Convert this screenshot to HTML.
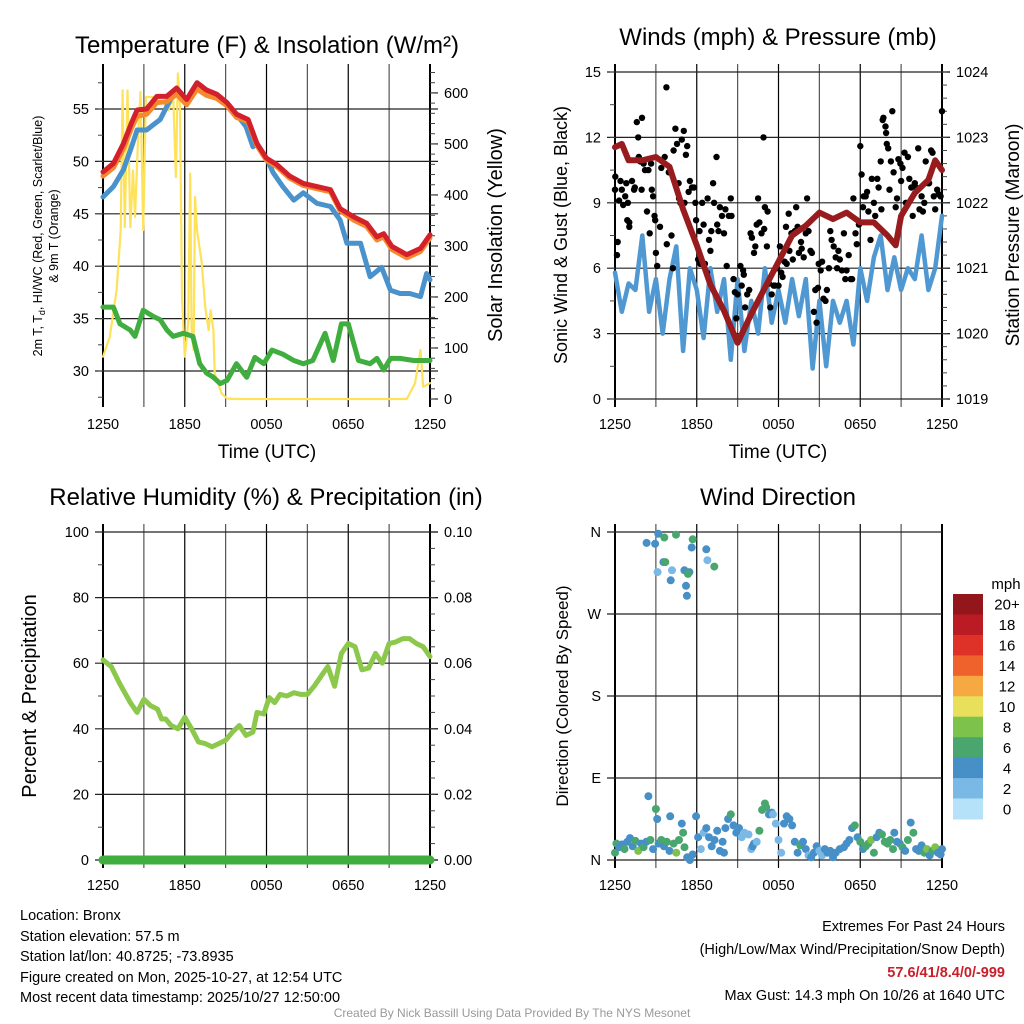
<!DOCTYPE html>
<html><head><meta charset="utf-8">
<style>
html,body{margin:0;padding:0;background:#fff;width:1024px;height:1024px;overflow:hidden}
svg{display:block;font-family:"Liberation Sans",Arial,sans-serif}
.info{position:absolute;font-family:"Liberation Sans",sans-serif;font-size:14.5px;color:#000;line-height:20.5px}
</style></head>
<body>
<svg id="fig" width="1024" height="1024" viewBox="0 0 1024 1024"></svg>
<div class="info" style="left:20px;top:906px">
<div>Location: Bronx</div>
<div>Station elevation: 57.5 m</div>
<div>Station lat/lon: 40.8725; -73.8935</div>
<div>Figure created on Mon, 2025-10-27, at 12:54 UTC</div>
<div>Most recent data timestamp: 2025/10/27 12:50:00</div>
</div>
<div class="info" style="right:19px;top:916px;text-align:right;line-height:23px">
<div>Extremes For Past 24 Hours</div>
<div>(High/Low/Max Wind/Precipitation/Snow Depth)</div>
<div style="color:#c8202a;font-weight:bold">57.6/41/8.4/0/-999</div>
<div>Max Gust: 14.3 mph On 10/26 at 1640 UTC</div>
</div>
<div style="position:absolute;left:0;width:1024px;top:1006px;text-align:center;font-family:'Liberation Sans',sans-serif;font-size:12px;color:#999">Created By Nick Bassill Using Data Provided By The NYS Mesonet</div>
<script>
// ---- data ----
const xTickLabels=["1250","1850","0050","0650","1250"];
const tempT=[0,0.76,1.5,2.1,2.5,3.2,3.95,4.67,5.4,6.14,6.9,7.6,8.35,9.1,9.8,10.65,11.3,12.0,12.75,13.7,14.7,15.7,16.7,17.4,18.4,19.35,20.1,20.6,21.2,22.3,23.3,24];
const redT=[49.0,49.8,51.7,53.7,54.9,55.0,56.2,56.2,57.0,55.9,57.5,56.8,56.4,55.6,54.5,54.0,51.7,50.3,49.7,48.6,47.9,47.6,47.3,45.5,44.7,44.1,42.8,43.1,41.9,41.1,41.7,43.0];
const orangeT=[48.6,49.4,51.2,53.2,54.3,54.5,55.6,55.7,56.4,55.4,56.9,56.3,56.0,55.3,54.2,53.8,51.5,50.1,49.5,48.4,47.7,47.4,47.1,45.3,44.4,43.8,42.5,42.8,41.6,40.8,41.4,42.7];
const blueTT=[0,0.76,1.5,2.1,2.5,3.2,3.7,4.2,4.55,5.4,6.14,6.9,7.6,8.35,9.1,9.8,10.5,11.0,11.3,12.0,12.5,13.2,14.0,14.7,15.7,16.7,17.4,17.9,18.9,19.6,20.45,21.1,21.8,22.5,23.3,23.75,24];
const blueT=[46.6,47.6,49.2,51.4,53.0,53.0,53.5,54.0,54.9,57.0,55.9,57.5,56.8,56.4,55.6,54.5,53.3,51.4,51.7,50.3,48.9,47.6,46.3,47.0,46.0,45.7,44.4,42.2,42.2,39.0,39.9,37.7,37.4,37.4,37.1,39.3,38.7];
const dewT=[0,0.76,1.25,2.0,2.35,2.95,3.7,4.2,4.7,5.15,5.9,6.6,7.1,7.6,8.1,8.6,9.1,9.8,10.55,11.15,11.8,12.4,13.2,14.0,14.7,15.4,16.3,16.9,17.5,18.0,18.75,19.6,20.1,20.6,21.1,21.8,22.8,24];
const dewV=[36.1,36.1,34.5,33.9,33.3,35.8,35.2,34.9,33.9,33.3,33.6,33.3,30.7,29.8,29.4,28.8,29.1,30.7,29.4,31.3,30.7,32.0,31.6,31.0,30.7,31.0,33.6,31.0,34.5,34.5,31.0,30.7,31.2,30.1,31.2,31.2,31.0,31.0];
const solT=[0,0.5,1.0,1.3,1.44,1.6,1.8,2.0,2.2,2.35,2.6,2.75,2.95,3.15,3.7,4.4,4.8,5.15,5.35,5.5,5.65,5.8,6.0,6.25,6.4,6.5,6.65,6.75,6.9,7.25,7.5,7.75,7.9,8.1,8.2,8.45,8.7,9.1,9.6,22.3,22.9,23.3,23.5,24];
const solV=[83,122,213,331,605,337,605,337,448,357,527,602,331,592,592,582,566,592,435,638,572,200,83,148,442,135,96,396,331,266,181,135,174,135,50,31,11,1,0,0,31,96,24,31];
const windV=[5.8,4.0,5.3,5.0,7.5,4.0,5.5,3.0,5.5,7.0,2.2,6.0,5.0,2.8,6.0,4.0,5.5,1.8,5.5,2.2,4.5,3.0,6.0,3.5,5.0,3.5,5.5,3.8,5.5,1.4,4.5,1.5,4.5,3.5,4.5,2.5,6.0,4.5,6.5,7.5,5.0,6.5,5.0,6.0,5.5,7.5,5.0,6.0,8.4];
const gustT=[0,0.02,0.15,0.2,0.3,0.4,0.5,0.6,0.75,0.95,0.83,0.9,1.05,1.05,1.25,1.4,1.45,1.6,1.7,1.75,1.85,1.98,1.95,2.1,2.2,2.35,2.45,2.55,2.65,2.7,2.8,2.9,2.95,3.0,3.1,3.3,3.4,3.65,3.77,3.8,3.95,4.15,4.25,4.3,4.43,4.55,4.67,4.7,4.8,4.9,5.05,5.1,5.2,5.3,5.4,5.5,5.65,5.8,5.9,5.95,6.1,6.2,6.25,6.4,6.5,6.6,6.75,6.8,6.9,7.0,7.07,7.2,7.27,7.45,7.5,7.6,7.7,7.85,8.0,8.1,8.2,8.35,8.5,8.55,8.7,8.8,8.9,9.0,9.2,9.3,9.4,9.45,9.55,9.7,9.85,9.95,10.05,10.2,10.3,10.4,10.5,10.6,10.75,10.9,10.95,11.0,11.15,11.2,11.3,11.4,11.5,11.65,11.75,11.9,12.0,12.1,12.2,12.3,12.45,12.55,12.6,12.75,12.8,12.95,13.05,13.2,13.3,13.4,13.5,13.65,13.7,13.85,14.0,14.1,14.2,14.35,14.45,14.6,14.7,14.8,14.9,14.95,15.1,15.2,15.3,15.45,15.55,15.7,15.8,15.9,16.05,16.2,16.3,16.4,16.5,16.65,16.8,16.9,17.0,17.15,17.3,17.4,17.5,17.65,17.75,17.9,18.0,18.1,18.2,18.25,18.4,18.5,18.6,18.75,18.85,19.0,19.1,19.25,19.35,19.5,19.55,19.65,19.7,19.85,19.9,19.95,20.05,20.15,20.25,20.35,20.45,20.6,20.7,20.8,20.95,21.0,21.1,21.25,21.35,21.5,21.6,21.75,21.85,22.0,22.1,22.25,22.35,22.5,22.6,22.7,22.8,23.0,23.05,23.2,23.3,23.4,23.5,23.65,23.75,23.9,24.0];
const gustV=[9.6,10.2,6.6,7.2,9.1,10.0,9.6,8.9,9.3,9.0,9.9,8.2,8.1,7.9,10.0,9.6,9.7,12.7,12.0,11.1,10.9,12.9,9.6,10.8,10.5,8.6,10.5,7.6,10.8,9.6,9.3,8.4,8.2,6.7,6.1,7.9,10.6,11.1,14.3,7.1,10.4,7.5,6.0,11.4,12.4,11.7,9.9,9.2,9.0,11.9,12.3,9.0,11.2,11.6,9.5,10.0,9.7,9.7,9.0,8.2,6.4,7.7,6.2,9.0,8.0,6.2,5.8,9.2,7.3,6.8,7.7,9.9,9.0,11.1,8.0,7.7,8.8,8.4,7.6,8.7,6.1,8.4,9.2,8.4,5.5,4.9,3.7,4.8,6.1,5.2,5.9,5.7,4.2,4.8,5.0,7.6,7.4,6.7,7.0,8.0,9.2,8.1,7.6,12.0,7.8,8.8,7.0,8.6,5.3,4.2,4.8,5.2,5.2,6.0,5.2,7.0,5.8,5.6,6.3,7.9,6.2,8.5,6.8,7.6,6.4,7.7,8.8,7.9,6.7,7.2,6.9,6.5,7.6,9.2,7.7,6.8,6.7,4.0,5.0,3.5,5.1,6.2,5.9,6.3,4.6,4.5,5.0,6.0,7.7,7.3,7.0,6.5,6.0,6.8,6.4,5.9,7.6,5.5,5.9,6.6,5.5,5.5,9.2,7.6,7.1,8.0,11.6,10.3,8.8,9.3,9.3,9.5,8.6,7.3,10.1,9.0,8.4,10.1,9.7,10.9,8.7,12.8,12.9,12.5,12.2,11.7,11.5,9.6,10.9,13.2,10.4,8.8,9.2,11.0,10.8,10.0,10.6,11.3,9.0,11.1,10.1,9.7,8.4,9.9,9.7,11.5,8.7,9.3,8.6,9.0,10.9,9.9,9.9,11.4,11.3,9.3,8.7,9.6,9.4,9.3,13.2];
const presT=[0,0.5,1,2,3,4,5,6,7,8,9,10,11,12,13,14,15,16,17,18,19,20,20.6,21,22,23,23.5,24];
const presV=[1022.85,1022.9,1022.65,1022.65,1022.7,1022.55,1021.9,1021.35,1020.75,1020.35,1019.86,1020.3,1020.7,1021.1,1021.5,1021.65,1021.85,1021.75,1021.85,1021.7,1021.7,1021.5,1021.35,1021.8,1022.15,1022.35,1022.65,1022.5];
const rhT=[0,0.6,1.2,2,2.5,3,3.5,4,4.3,4.6,5,5.5,6,6.5,7,7.5,8,8.5,9,9.5,10,10.5,11,11.3,11.8,12.2,12.6,13,13.5,14,14.5,15,15.5,16,16.5,17,17.5,18,18.5,19,19.5,20,20.5,21,21.5,22,22.5,23,23.5,24];
const rhV=[61,59,54,48,45,49,47,46,43,43,41,40,43.5,40,36,35.5,34.5,35.5,36.5,39,41,38,39,45,44.5,49.5,48,50.5,50,51,50.5,50.5,53,56,59,53,63,66,65,58,58.5,63,60,66,66.5,67.5,67.5,66,65,62];
const precipV=[0,0];
const dirT=[2.32,2.94,3.18,3.62,4.48,5.70,5.63,6.70,6.78,7.29,3.55,3.69,3.13,4.18,4.09,5.09,5.46,5.36,5.21,5.28,
0.0,0.1,0.3,0.5,0.7,0.9,1.1,1.3,1.5,1.7,1.9,2.1,2.3,2.45,2.6,2.8,3.0,3.1,3.2,3.4,3.6,3.8,4.0,4.05,4.3,4.5,4.7,4.9,5.0,5.1,5.3,5.5,5.7,5.95,6.1,6.3,6.5,6.7,6.9,7.1,7.3,7.5,7.7,7.9,8.0,8.1,8.3,8.5,8.7,8.9,9.1,9.3,9.5,9.8,10.0,10.1,10.2,10.4,10.6,10.8,11.0,11.1,11.3,11.5,11.6,11.8,12.0,12.2,12.4,12.6,12.8,13.0,13.2,13.4,13.6,13.8,14.0,14.2,14.4,14.6,14.8,15.0,15.2,15.4,15.6,15.8,16.0,16.2,16.5,16.8,17.0,17.2,17.4,17.6,17.8,18.0,18.2,18.4,18.6,18.8,19.0,19.2,19.4,19.6,19.8,20.0,20.2,20.4,20.5,20.7,20.9,21.1,21.3,21.5,21.7,21.9,22.1,22.3,22.5,22.7,22.9,23.1,23.3,23.5,23.7,23.9,24.0];
const dirV=[348,347,358,354,357,352,343,341,329,322,327,327,316,318,307,318,316,314,301,290,
8,18,14,17,12,20,24,15,21,10,18,14,20,70,22,12,56,45,18,22,15,20,10,48,18,8,22,40,30,14,3,0,6,48,25,12,30,35,25,15,22,32,10,20,8,35,45,50,38,30,35,25,30,28,12,15,18,20,32,55,62,58,50,52,50,40,22,8,40,48,45,38,20,8,16,20,12,5,3,8,15,10,5,12,8,10,3,8,12,14,18,22,35,38,25,20,12,15,18,22,8,25,30,28,20,18,22,12,30,20,18,14,10,22,41,30,12,10,16,8,12,5,10,14,8,6,12,10,15,8,12];
const dirS=[4,4,4,6,6,6,4,4,2,6,4,6,2,2,4,4,4,6,4,4,
6,6,4,4,6,4,4,4,6,8,4,6,4,4,6,4,6,4,4,6,4,6,4,4,6,8,6,4,6,6,4,4,4,4,4,2,2,4,4,4,4,4,4,4,4,4,4,6,4,4,4,2,2,2,2,4,4,2,6,6,6,6,4,4,2,2,2,2,4,4,4,4,4,4,6,4,4,2,4,4,4,2,2,4,4,4,4,4,4,4,4,4,4,6,4,6,4,6,6,8,6,4,4,6,6,6,6,6,4,4,4,6,4,6,4,6,4,4,4,6,8,4,6,8];
const cbLabels=["20+","18","16","14","12","10","8","6","4","2","0"];
const cbColors=["#93161b","#bb1b24","#de3128","#f0622c","#f6a842","#e8e05b","#7cc24b","#48a66e","#478fc7","#7ab8e6","#b6e2f9"];

// ---- helpers ----
const NS="http://www.w3.org/2000/svg";
const svg=document.getElementById('fig');
function mk(tag,attrs,parent){const e=document.createElementNS(NS,tag);for(const k in attrs)e.setAttribute(k,attrs[k]);(parent||svg).appendChild(e);return e;}
function txt(str,attrs,parent){const e=mk('text',attrs,parent);e.textContent=str;return e;}
function speedColor(s){if(s===undefined||isNaN(s))s=4;const i=Math.min(10,Math.max(0,Math.floor(s/2)));return cbColors[10-i];}

function panel(name,x0,y0,w,h,yl,yr){
  const g=mk('g',{});
  
  
  const sx=t=>x0+t/24*w;
  const syl=v=>y0+h-(v-yl.min)/(yl.max-yl.min)*h;
  const syr=yr?(v=>y0+h-(v-yr.min)/(yr.max-yr.min)*h):null;
  for(let i=0;i<=8;i++){
    const x=sx(i*3);
    const l=mk('line',{x1:x,y1:y0-8,x2:x,y2:y0+h+8,stroke:(i%2?'#555':'#000'),'stroke-width':(i==0||i==8)?2:1.2},g);
    
    
  }
  xTickLabels.forEach((s,i)=>{
    const t=txt(s,{x:sx(i*6),y:y0+h+30,'font-size':14.5,'text-anchor':'middle'},g);
    
    
  });
  yl.major.forEach((v,i)=>{
    const y=syl(v);
    const l=mk('line',{x1:x0-8,y1:y,x2:x0+w+(yr?8:0),y2:y,stroke:'#222','stroke-width':1.2},g);
    
    
    const t=txt(yl.labels[i],{x:x0-14,y:y+5,'font-size':14.5,'text-anchor':'end'},g);
    
    
  });
  (yl.minor||[]).forEach(v=>{const y=syl(v);const l=mk('line',{x1:x0-5,y1:y,x2:x0,y2:y,stroke:'#444','stroke-width':1},g);
    
    });
  if(yr){
    yr.major.forEach((v,i)=>{
      const y=syr(v);
      const l=mk('line',{x1:x0+w,y1:y,x2:x0+w+8,y2:y,stroke:'#222','stroke-width':1.2},g);
      
      
      const t=txt(yr.labels[i],{x:x0+w+14,y:y+5,'font-size':14.5},g);
      
      
    });
    (yr.minor||[]).forEach(v=>{const y=syr(v);const l=mk('line',{x1:x0+w,y1:y,x2:x0+w+5,y2:y,stroke:'#444','stroke-width':1},g);
      
      });
  }
  const plot=mk('g',{},g);
  
  
  return {g:plot,sx,syl,syr,x0,y0,w,h};
}
function range(a,b,s){const r=[];for(let v=a;v<=b+1e-9;v+=s)r.push(+v.toFixed(4));return r;}
function line(P,ts,vs,sy,color,wid,name){
  const d=ts.map((t,i)=>(i?'L':'M')+P.sx(t).toFixed(1)+','+sy(vs[i]).toFixed(1)).join('');
  const p=mk('path',{d,fill:'none',stroke:color,'stroke-width':wid,'stroke-linejoin':'round','stroke-linecap':'round'},P.g);
  
  
  return p;
}
function title(str,x,y,name){const t=txt(str,{x,y,'font-size':24,'text-anchor':'middle'});
  
  return t;}
function vlabel(str,x,y,size,name){const t=txt(str,{x,y,'font-size':size,'text-anchor':'middle',transform:`rotate(-90 ${x} ${y})`});
  
  return t;}

// ---- panel 1: temperature ----
const P1=panel('temperature-panel',103,72,327,327,
  {min:27.33,max:58.53,major:[30,35,40,45,50,55],labels:["30","35","40","45","50","55"],minor:range(27.5,57.5,2.5)},
  {min:0,max:641,major:[0,100,200,300,400,500,600],labels:["0","100","200","300","400","500","600"],minor:range(0,640,20)});
line(P1,solT,solV,P1.syr,'#fde25a',2.2,'solar-insolation-line');
line(P1,dewT,dewV,P1.syl,'#3fae3f',5,'dewpoint-line');
line(P1,blueTT,blueT,P1.syl,'#4a92cc',5,'heat-index-windchill-line');
line(P1,tempT,orangeT,P1.syl,'#f5892e',5,'9m-temperature-line');
line(P1,tempT,redT,P1.syl,'#d3202a',5,'2m-temperature-line');
title('Temperature (F) & Insolation (W/m²)',267,53,'temperature-title');
{const t=txt('Time (UTC)',{x:267,y:458,'font-size':19,'text-anchor':'middle'});

}
{const t=mk('text',{x:42,y:236,'font-size':12.5,'text-anchor':'middle',transform:'rotate(-90 42 236)'});


t.appendChild(document.createTextNode('2m T, T'));
const s=mk('tspan',{'font-size':9,dy:3},t);s.textContent='d';
const r=mk('tspan',{dy:-3},t);r.textContent=', HI/WC (Red, Green, Scarlet/Blue)';}
vlabel('& 9m T (Orange)',58,236,12.5,'temperature-y-axis-title-line2');
vlabel('Solar Insolation (Yellow)',502,235,20,'insolation-y-axis-title');

// ---- panel 2: winds ----
const P2=panel('wind-panel',615,72,327,327,
  {min:0,max:15,major:[0,3,6,9,12,15],labels:["0","3","6","9","12","15"],minor:range(0,15,1.5)},
  {min:1019,max:1024,major:[1019,1020,1021,1022,1023,1024],labels:["1019","1020","1021","1022","1023","1024"],minor:range(1019,1024,0.2)});
const windT=windV.map((v,i)=>i*0.5);
line(P2,windT,windV,P2.syl,'#4f98d2',4.5,'sustained-wind-line');
gustT.forEach((t,i)=>{
  if(gustV[i]===undefined)return;
  const c=mk('circle',{cx:P2.sx(t).toFixed(1),cy:P2.syl(gustV[i]).toFixed(1),r:3.2,fill:'#000'},P2.g);
  
  
});
line(P2,presT,presV,P2.syr,'#981b1e',6,'pressure-line');
title('Winds (mph) & Pressure (mb)',778,45,'winds-title');
{const t=txt('Time (UTC)',{x:778,y:458,'font-size':19,'text-anchor':'middle'});

}
vlabel('Sonic Wind & Gust (Blue, Black)',567,235,18,'wind-y-axis-title');
vlabel('Station Pressure (Maroon)',1019,235,19,'pressure-y-axis-title');

// ---- panel 3: RH ----
const P3=panel('humidity-panel',103,532,327,328,
  {min:0,max:100,major:[0,20,40,60,80,100],labels:["0","20","40","60","80","100"],minor:range(10,90,20)},
  {min:0,max:0.1,major:[0,0.02,0.04,0.06,0.08,0.1],labels:["0.00","0.02","0.04","0.06","0.08","0.10"],minor:range(0.005,0.095,0.005)});
line(P3,rhT,rhV,P3.syl,'#8cc84b',5,'relative-humidity-line');
line(P3,[0,24],precipV,P3.syr,'#3fae3f',9,'precipitation-line');
title('Relative Humidity (%) & Precipitation (in)',266,505,'humidity-title');
vlabel('Percent & Precipitation',36,696,20,'humidity-y-axis-title');

// ---- panel 4: wind direction ----
const P4=panel('direction-panel',615,532,327,328,
  {min:0,max:360,major:[0,90,180,270,360],labels:["N","E","S","W","N"]},null);
dirT.forEach((t,i)=>{
  if(dirV[i]===undefined)return;
  const c=mk('circle',{cx:P4.sx(t).toFixed(1),cy:P4.syl(dirV[i]).toFixed(1),r:4,fill:speedColor(dirS[i])},P4.g);
  
  
});
title('Wind Direction',778,505,'direction-title');
vlabel('Direction (Colored By Speed)',568,696,17,'direction-y-axis-title');
{const cb=mk('g',{});


const bh=(819-594)/cbColors.length;
cbColors.forEach((c,i)=>{
  const r=mk('rect',{x:953,y:(594+i*bh).toFixed(1),width:30,height:(bh+0.5).toFixed(1),fill:c},cb);
  
  
  const t=txt(cbLabels[i],{x:1007,y:(594+i*bh+bh/2+5.5).toFixed(1),'font-size':15,'text-anchor':'middle'},cb);
  
  
});
const u=txt('mph',{x:1006,y:589,'font-size':15,'text-anchor':'middle'},cb);

}
</script>
</body></html>
